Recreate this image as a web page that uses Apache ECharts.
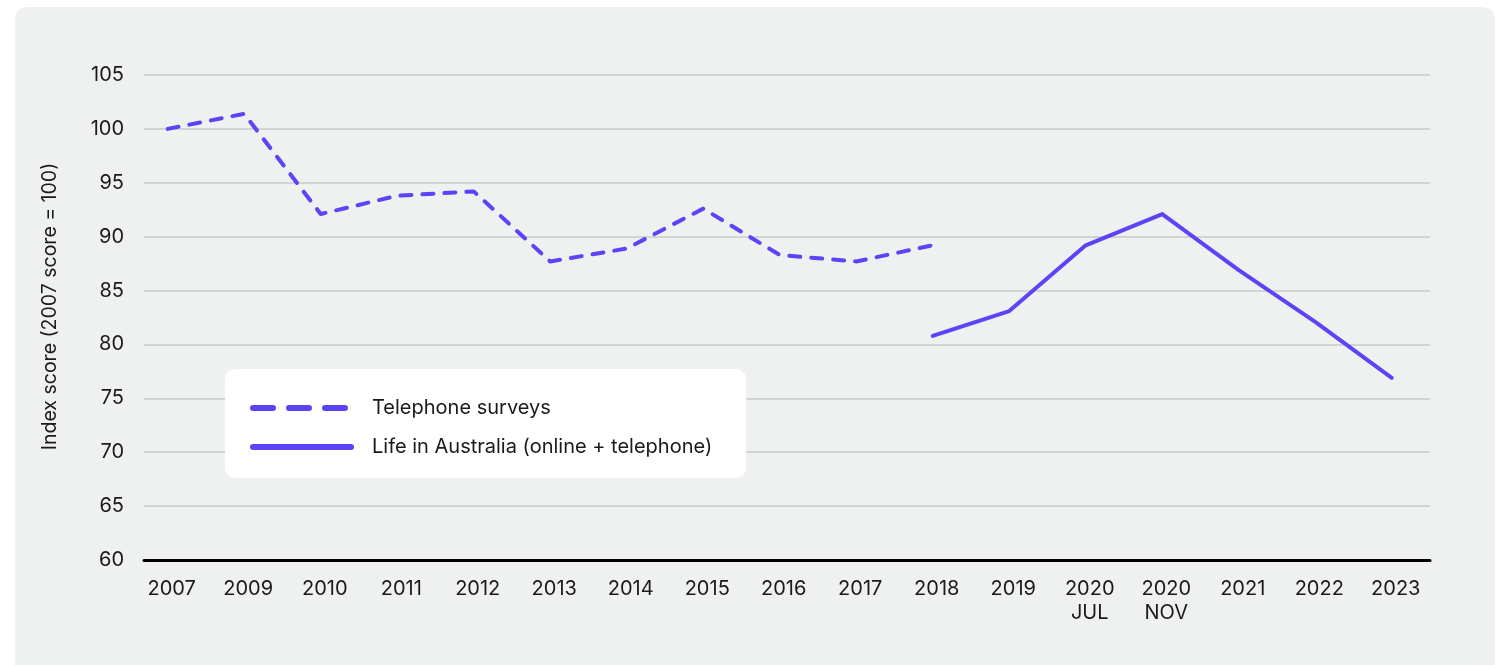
<!DOCTYPE html>
<html>
<head>
<meta charset="utf-8">
<script src="https://cdn.jsdelivr.net/npm/echarts@6/dist/echarts.min.js"></script>
<style>
  html, body { margin: 0; padding: 0; background: #ffffff; }
  #chart { width: 1499px; height: 665px; }
</style>
</head>
<body>
<div id="chart"></div>
<script>
// categories along the x axis
var categories = ["2007", "2009", "2010", "2011", "2012", "2013", "2014", "2015", "2016",
  "2017", "2018", "2019", "2020\nJUL", "2020\nNOV", "2021", "2022", "2023"];
// telephone surveys 2007 - 2018 (index 0..10)
var telephone = [100, 101.4, 92.1, 93.8, 94.2, 87.7, 88.9, 92.6, 88.3, 87.7, 89.2];
// life in australia 2018 - 2023 (index 10..16)
var lifeStart = 10;
var lifeInAustralia = [80.8, 83.1, 89.2, 92.1, 86.9, 82.1, 76.9];
var yTicks = [60, 65, 70, 75, 80, 85, 90, 95, 100, 105];

var FONT = "Inter, 'Noto Sans', sans-serif";
var LINE_COLOR = "#5a44f6";

var telData = telephone.map(function (v, i) { return [i, v]; });
var lifeData = lifeInAustralia.map(function (v, i) { return [lifeStart + i, v]; });
var xIdx = categories.map(function (c, i) { return i; });

var chart = echarts.init(document.getElementById("chart"));

var option = {
  backgroundColor: "#ffffff",
  animation: false,
  graphic: [{
    type: "rect",
    z: -10,
    silent: true,
    shape: { x: 15, y: 7, width: 1480, height: 680, r: 12 },
    style: { fill: "#eff0f0" }
  }],
  grid: { left: 144, right: 69, top: 75, bottom: 105 },
  legend: {
    orient: "vertical",
    left: 225,
    top: 369,
    padding: [29, 34, 21, 25],
    backgroundColor: "#ffffff",
    borderRadius: 10,
    itemWidth: 98,
    itemHeight: 20,
    itemGap: 19,
    textStyle: { fontFamily: FONT, fontSize: 20, color: "#1a1a1a", padding: [0, 0, 0, 16] },
    data: [
      { name: "Telephone surveys",
        itemStyle: { opacity: 0 },
        lineStyle: { width: 6, type: [20, 16], cap: "round", color: LINE_COLOR } },
      { name: "Life in Australia (online + telephone)",
        itemStyle: { opacity: 0 },
        lineStyle: { width: 6, type: "solid", cap: "round", color: LINE_COLOR } }
    ]
  },
  xAxis: {
    type: "value",
    min: -0.31,
    max: 16.5,
    splitLine: { show: false },
    axisTick: { show: false },
    axisLine: { show: true, onZero: false, lineStyle: { color: "#000000", width: 3 } },
    axisLabel: {
      customValues: xIdx,
      formatter: function (v) { return categories[Math.round(v)]; },
      fontFamily: FONT,
      fontSize: 20,
      lineHeight: 24,
      color: "#1a1a1a",
      margin: 17,
      padding: [0, 0, 0, 8]
    }
  },
  yAxis: {
    type: "value",
    min: yTicks[0],
    max: yTicks[yTicks.length - 1],
    interval: 5,
    name: "Index score (2007 score = 100)",
    nameLocation: "middle",
    nameGap: 84,
    nameTextStyle: { fontFamily: FONT, fontSize: 19.5, color: "#1a1a1a", padding: [0, 0, 0, 22] },
    axisLine: { show: false },
    axisTick: { show: false },
    splitLine: { lineStyle: { color: "#d2d3d3", width: 2 } },
    axisLabel: { fontFamily: FONT, fontSize: 20, color: "#1a1a1a", margin: 20 }
  },
  series: [
    {
      name: "Telephone surveys",
      type: "line",
      data: telData,
      symbol: "none",
      lineStyle: { color: LINE_COLOR, width: 4, type: [11, 11], cap: "round", join: "round" },
      itemStyle: { color: LINE_COLOR }
    },
    {
      name: "Life in Australia (online + telephone)",
      type: "line",
      data: lifeData,
      symbol: "none",
      lineStyle: { color: LINE_COLOR, width: 4, type: "solid", cap: "round", join: "round" },
      itemStyle: { color: LINE_COLOR }
    }
  ]
};

chart.setOption(option);
</script>
</body>
</html>
